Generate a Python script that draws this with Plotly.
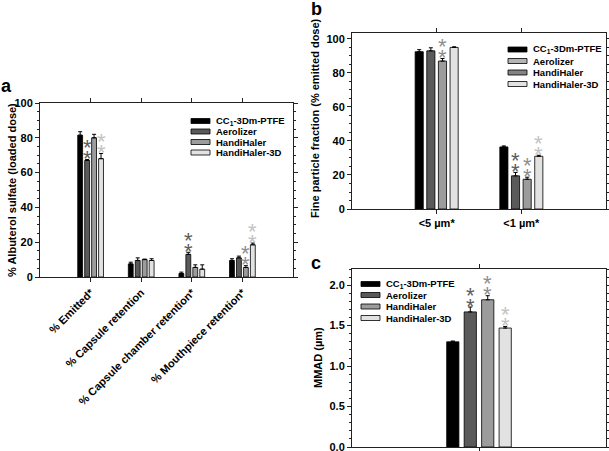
import plotly.graph_objects as go

W, H = 609, 451
FONT = "Liberation Sans, Arial, sans-serif"

# ---------------- data ----------------
series = ["CC<sub>1</sub>-3Dm-PTFE", "Aerolizer", "HandiHaler", "HandiHaler-3D"]
bar_colors = ["#000000", "#5a5a5a", "#9c9c9c", "#e2e2e2"]
star_colors = ["#000000", "#5c5c5c", "#8e8e8e", "#c2c2c2"]

# panel a
a_categories = ["% Emitted*", "% Capsule retention", "% Capsule chamber retention*", "% Mouthpiece retention*"]
a_cc1 = [81.5, 7.5, 2.0, 9.5]
a_cc1_err = [2.0, 1.0, 0.8, 1.0]
a_aero = [67.0, 9.5, 13.0, 11.0]
a_aero_err = [0.5, 1.5, 1.2, 1.0]
a_hh = [80.0, 10.0, 5.5, 5.5]
a_hh_err = [2.0, 0.3, 1.5, 1.0]
a_hh3d = [68.0, 9.5, 4.5, 18.5]
a_hh3d_err = [3.0, 1.0, 2.5, 1.0]
a_stars = [[0, 0, 0, 0], [2, 0, 2, 0], [0, 0, 0, 2], [2, 0, 0, 2]]

# panel b
b_categories = ["<5 µm*", "<1 µm*"]
b_cc1 = [92.5, 36.5]
b_cc1_err = [1.2, 0.6]
b_aero = [93.0, 19.5]
b_aero_err = [1.8, 2.0]
b_hh = [87.0, 17.5]
b_hh_err = [1.5, 1.2]
b_hh3d = [95.0, 31.0]
b_hh3d_err = [0.4, 0.6]
b_stars = [[0, 0], [0, 2], [2, 2], [0, 2]]
b_legend_colors = ["#000000", "#b4b4b4", "#848484", "#e2e2e2"]

# panel c
c_categories = ["MMAD"]
c_cc1 = [1.30]
c_cc1_err = [0.01]
c_aero = [1.67]
c_aero_err = [0.06]
c_hh = [1.82]
c_hh_err = [0.05]
c_hh3d = [1.47]
c_hh3d_err = [0.02]
c_stars = [[0], [2], [2], [2]]

BARGAP = 0.45
BARGROUPGAP = 0.3

panels = {
    "a": dict(cats=a_categories, vals=[a_cc1, a_aero, a_hh, a_hh3d],
              errs=[a_cc1_err, a_aero_err, a_hh_err, a_hh3d_err], stars=a_stars,
              xa="x", ya="y", legend_colors=bar_colors),
    "b": dict(cats=b_categories, vals=[b_cc1, b_aero, b_hh, b_hh3d],
              errs=[b_cc1_err, b_aero_err, b_hh_err, b_hh3d_err], stars=b_stars,
              xa="x2", ya="y2", legend_colors=b_legend_colors),
    "c": dict(cats=c_categories, vals=[c_cc1, c_aero, c_hh, c_hh3d],
              errs=[c_cc1_err, c_aero_err, c_hh_err, c_hh3d_err], stars=c_stars,
              xa="x3", ya="y3", legend_colors=bar_colors),
}

fig = go.Figure()
annotations = []
shapes = []


def px_x(p):
    return p / W


def px_y(p):
    return 1 - p / H


for key, p in panels.items():
    for i, name in enumerate(series):
        fig.add_trace(go.Bar(
            x=p["cats"], y=p["vals"][i], name=name, xaxis=p["xa"], yaxis=p["ya"],
            marker=dict(color=bar_colors[i], line=dict(color="#000000", width=0.8)),
            error_y=dict(type="data", array=p["errs"][i], symmetric=False,
                         arrayminus=[0] * len(p["errs"][i]),
                         color="#000000", thickness=1, width=2),
            showlegend=False,
        ))
        # significance stars
        slot = (1 - BARGAP) / 4
        for j, n in enumerate(p["stars"][i]):
            top = p["vals"][i][j] + p["errs"][i][j]
            for k in range(n):
                annotations.append(dict(
                    x=j + (i - 1.5) * slot, y=top, xref=p["xa"], yref=p["ya"],
                    text="*", showarrow=False, xanchor="center", yanchor="middle",
                    yshift=1 + 11 * k,
                    font=dict(family=FONT, size=22, color=star_colors[i]),
                ))

# manual legends (positions in pixels)
legend_pos = {"a": (191, [121, 131.5, 142, 152.5]),
              "b": (508, [49.5, 61, 72.5, 84]),
              "c": (361, [284, 295, 306.5, 318])}
for key, (x0, rows) in legend_pos.items():
    cols = panels[key]["legend_colors"]
    for i, name in enumerate(series):
        yc = rows[i]
        shapes.append(dict(type="rect", xref="paper", yref="paper",
                           x0=px_x(x0), x1=px_x(x0 + 19),
                           y0=px_y(yc + 2.5), y1=px_y(yc - 2.5),
                           fillcolor=cols[i], line=dict(color="#000000", width=0.8)))
        annotations.append(dict(x=px_x(x0 + 23), y=px_y(yc), xref="paper", yref="paper",
                                text=name, showarrow=False, xanchor="left", yanchor="middle",
                                font=dict(family=FONT, size=9.5, color="#000000", weight="bold")))

# panel letters
for letter, (lx, ly) in {"a": (6, 86), "b": (316, 9), "c": (316, 263)}.items():
    annotations.append(dict(x=px_x(lx), y=px_y(ly), xref="paper", yref="paper",
                            text=letter, showarrow=False, xanchor="center", yanchor="middle",
                            font=dict(family=FONT, size=18, color="#000000", weight="bold")))

# axis titles
for txt, (tx, ty) in {"% Albuterol sulfate (loaded dose)": (12, 190),
                      "Fine particle fraction (% emitted dose)": (315, 118),
                      "MMAD (µm)": (318, 358)}.items():
    annotations.append(dict(x=px_x(tx), y=px_y(ty), xref="paper", yref="paper",
                            text=txt, showarrow=False, textangle=-90,
                            xanchor="center", yanchor="middle",
                            font=dict(family=FONT, size=11, color="#000000", weight="bold")))

tickfont = dict(family=FONT, size=11, color="#000000", weight="bold")
common_x = dict(type="category", showline=True, linecolor="#222222", linewidth=1,
                mirror="ticks", ticks="outside", ticklen=4, tickcolor="#222222",
                showgrid=False, zeroline=False, automargin=False, fixedrange=True)
common_y = dict(showline=True, linecolor="#222222", linewidth=1, mirror="ticks",
                ticks="outside", ticklen=4, tickcolor="#222222", showgrid=False,
                zeroline=False, automargin=False, tickfont=tickfont,
                ticklabeloverflow="allow", fixedrange=True,
                minor=dict(ticks="outside", ticklen=2, tickcolor="#222222", showgrid=False))

fig.update_layout(
    width=W, height=H, margin=dict(l=0, r=0, t=0, b=0),
    paper_bgcolor="white", plot_bgcolor="white",
    barmode="group", bargap=BARGAP, bargroupgap=BARGROUPGAP,
    showlegend=False, hovermode=False,
    xaxis=dict(common_x, domain=[px_x(40), px_x(293)], anchor="y", range=[-1, 4],
               tickangle=-45, tickfont=dict(family=FONT, size=11, color="#000000", weight="bold")),
    yaxis=dict(common_y, domain=[px_y(277), px_y(103)], anchor="x", range=[0, 100],
               dtick=20, minor=dict(common_y["minor"], dtick=5)),
    xaxis2=dict(common_x, domain=[px_x(352), px_x(606)], anchor="y2", range=[-1, 2],
                tickangle=0, tickfont=tickfont),
    yaxis2=dict(common_y, domain=[px_y(209), px_y(33)], anchor="x2", range=[0, 103.5],
                dtick=20, minor=dict(common_y["minor"], dtick=5)),
    xaxis3=dict(common_x, domain=[px_x(352), px_x(606)], anchor="y3", range=[-1, 1],
                showticklabels=False),
    yaxis3=dict(common_y, domain=[px_y(447), px_y(269)], anchor="x3", range=[0, 2.2],
                dtick=0.5, tickformat=".1f", minor=dict(common_y["minor"], dtick=0.1)),
    annotations=annotations,
    shapes=shapes,
)

fig.write_html("out.html", config={"displayModeBar": False, "staticPlot": True},
               post_script="document.body.style.margin='0px';document.body.style.overflow='hidden';")
